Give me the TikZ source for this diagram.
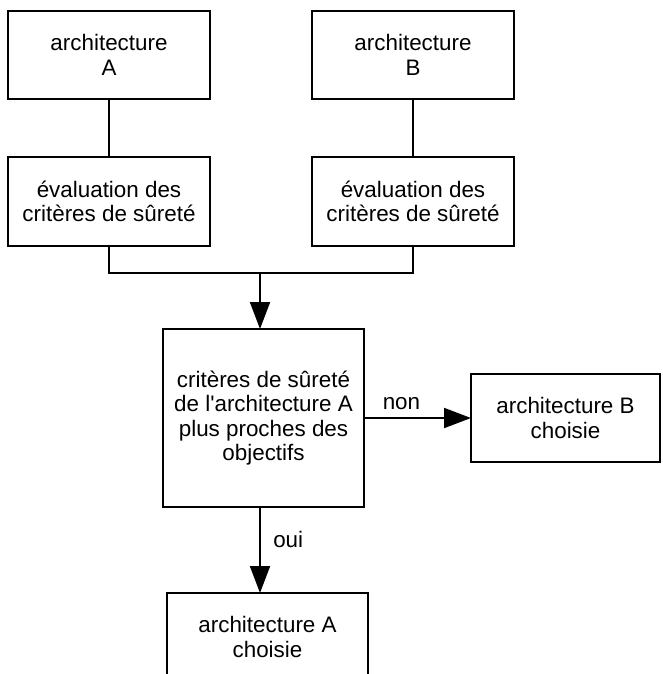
\documentclass[tikz,border=0pt]{standalone}
\usepackage{fontspec}
\setmainfont{Liberation Sans}
\usetikzlibrary{arrows.meta}
\begin{document}
\begin{tikzpicture}[x=1pt,y=-1pt,
  every node/.style={font=\fontsize{22.4}{24.5}\selectfont},
  box/.style={draw, line width=1.9pt, align=center, inner sep=0pt, outer sep=0pt},
  wire/.style={line width=1.9pt},
  arr/.style={wire, -{Triangle[length=27pt,width=20pt]}}]
  \useasboundingbox (0,0) rectangle (662,674);
  \clip (0,0) rectangle (662,674);

  % the two candidate architectures
  \node[box, minimum width=202pt, minimum height=88pt] (archA) at (109,55) {architecture\\A};
  \node[box, minimum width=202pt, minimum height=88pt] (archB) at (413,55) {architecture\\B};

  % safety criteria evaluation for each
  \node[box, minimum width=202pt, minimum height=89pt] (evalA) at (109,201.5) {évaluation des\\critères de sûreté};
  \node[box, minimum width=202pt, minimum height=89pt] (evalB) at (413,201.5) {évaluation des\\critères de sûreté};

  % decision
  \node[box, minimum width=201pt, minimum height=178pt] (crit) at (263.5,418)
    {critères de sûreté\\de l\textquotesingle architecture A\\plus proches des\\objectifs};

  % outcomes
  \node[box, minimum width=189pt, minimum height=88pt] (choixB) at (565.5,418) {architecture B\\choisie};
  \node[box, minimum width=201pt, minimum height=88pt] (choixA) at (267.5,637) {architecture A\\choisie};

  \coordinate (join) at (260,273);

  \draw[wire] (archA) -- (evalA);
  \draw[wire] (archB) -- (evalB);
  \draw[wire] (evalA.south) |- (join) -| (evalB.south);
  \draw[arr] (join) -- (join |- crit.north);
  \draw[arr] (crit.east) -- node[pos=0.35, above=4pt] {non} (choixB.west);
  \draw[arr] (join |- crit.south) -- node[pos=0.38, right=9pt] {oui} (join |- choixA.north);
\end{tikzpicture}
\end{document}
